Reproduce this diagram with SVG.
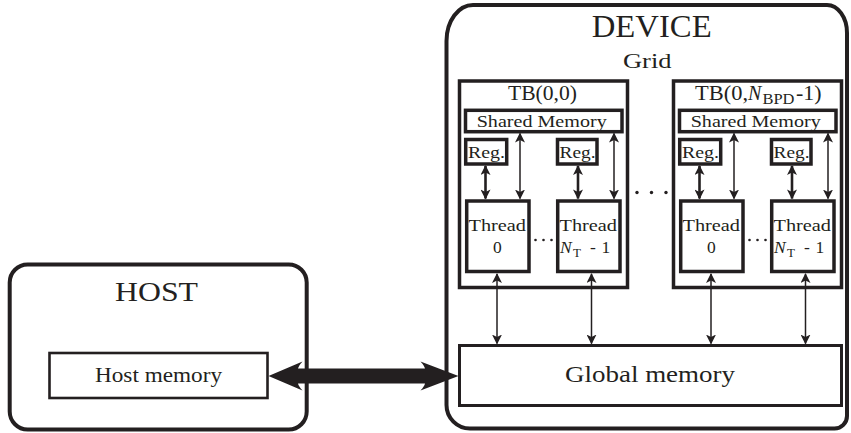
<svg xmlns="http://www.w3.org/2000/svg" width="851" height="433" viewBox="0 0 851 433">
<style>
  .t { font-family: "Liberation Serif", "Times New Roman", serif; fill: #231f20; }
  .box { fill: #ffffff; stroke: #231f20; stroke-width: 3.5; }
  .outer { fill: #ffffff; stroke: #231f20; stroke-width: 4; }
  .thick { stroke: #231f20; stroke-width: 2.6; fill: none; }
  .thin { stroke: #231f20; stroke-width: 1.5; fill: none; }
  .dot { fill: #231f20; }
</style>
<defs>
  <marker id="ah" viewBox="0 0 10 10" refX="9" refY="5" markerWidth="10" markerHeight="10" markerUnits="userSpaceOnUse" orient="auto-start-reverse">
    <path d="M0,0 L10,5 L0,10 L2.5,5 z" fill="#231f20"/>
  </marker>
  <marker id="ahb" viewBox="0 0 10 10" refX="9" refY="5" markerWidth="11" markerHeight="10" markerUnits="userSpaceOnUse" orient="auto-start-reverse">
    <path d="M0,0 L10,5 L0,10 L2.5,5 z" fill="#231f20"/>
  </marker>
</defs>

<g id="host">
  <rect class="outer" x="9.7" y="264.5" width="297" height="165" rx="18" ry="18"/>
  <text class="t" x="115" y="300.5" font-size="27" textLength="83" lengthAdjust="spacingAndGlyphs">HOST</text>
</g>
<g id="host-memory">
  <rect x="49.5" y="353" width="218" height="45" fill="#fff" stroke="#231f20" stroke-width="2.6"/>
  <text class="t" x="95" y="382" font-size="21" textLength="127" lengthAdjust="spacingAndGlyphs">Host memory</text>
</g>

<g id="device">
  <path class="outer" d="M 473 5 H 827 A 20 28 0 0 1 847 33 V 416 A 12.5 12.5 0 0 1 834.5 428.5 H 470 A 23.5 23.5 0 0 1 446.5 405 V 41 A 26.5 36 0 0 1 473 5 Z"/>
  <text class="t" x="591.7" y="36.7" font-size="31" textLength="120" lengthAdjust="spacingAndGlyphs">DEVICE</text>
  <text class="t" x="623" y="68" font-size="21" textLength="48.5" lengthAdjust="spacingAndGlyphs">Grid</text>
</g>

<g id="tb0">
  <rect class="box" x="459.5" y="81" width="168" height="206.5"/>
  <text class="t" x="508" y="100" font-size="20" textLength="69" lengthAdjust="spacingAndGlyphs">TB(0,0)</text>
</g>
<g id="tb0-shared">
  <rect class="box" x="465.5" y="110.3" width="156.5" height="21.4"/>
  <text class="t" x="476.7" y="126.7" font-size="17.5" textLength="130" lengthAdjust="spacingAndGlyphs">Shared Memory</text>
</g>
<g id="tb0-reg0">
  <rect class="box" x="465.7" y="139.5" width="41" height="24.5"/>
  <text class="t" x="468" y="158.3" font-size="17.5" textLength="37" lengthAdjust="spacingAndGlyphs">Reg.</text>
</g>
<g id="tb0-reg1">
  <rect class="box" x="557.5" y="139.5" width="39.5" height="24.5"/>
  <text class="t" x="559.5" y="158.3" font-size="17.5" textLength="36" lengthAdjust="spacingAndGlyphs">Reg.</text>
</g>
<g id="tb0-thread0">
  <rect class="box" x="466.7" y="201" width="62.3" height="70.5"/>
  <text class="t" x="468.5" y="230.7" font-size="17.5" textLength="57.5" lengthAdjust="spacingAndGlyphs">Thread</text>
  <text class="t" x="497.3" y="253.3" font-size="17.5" text-anchor="middle">0</text>
</g>
<g id="tb0-thread1">
  <rect class="box" x="557.7" y="201" width="62.3" height="70.5"/>
  <text class="t" x="559.5" y="230.7" font-size="17.5" textLength="57.5" lengthAdjust="spacingAndGlyphs">Thread</text>
  <text class="t" y="253.3" font-size="17.5"><tspan x="560" font-style="italic">N</tspan><tspan x="573" dy="3.5" font-size="13">T</tspan><tspan x="590" dy="-3.5">-</tspan><tspan x="601.5">1</tspan></text>
</g>

<g id="tb1">
  <rect class="box" x="673.5" y="81" width="168" height="206.5"/>
  <text class="t" y="100" font-size="20"><tspan x="695" textLength="53" lengthAdjust="spacingAndGlyphs">TB(0,</tspan><tspan x="748" font-style="italic">N</tspan><tspan x="762.5" dy="4" font-size="14" textLength="32" lengthAdjust="spacingAndGlyphs">BPD</tspan><tspan x="796" dy="-4" textLength="25.5" lengthAdjust="spacingAndGlyphs">-1)</tspan></text>
</g>
<g id="tb1-shared">
  <rect class="box" x="679.5" y="110.3" width="156.5" height="21.4"/>
  <text class="t" x="690.7" y="126.7" font-size="17.5" textLength="130" lengthAdjust="spacingAndGlyphs">Shared Memory</text>
</g>
<g id="tb1-reg0">
  <rect class="box" x="679.7" y="139.5" width="41" height="24.5"/>
  <text class="t" x="682" y="158.3" font-size="17.5" textLength="37" lengthAdjust="spacingAndGlyphs">Reg.</text>
</g>
<g id="tb1-reg1">
  <rect class="box" x="771.5" y="139.5" width="39.5" height="24.5"/>
  <text class="t" x="773.5" y="158.3" font-size="17.5" textLength="36" lengthAdjust="spacingAndGlyphs">Reg.</text>
</g>
<g id="tb1-thread0">
  <rect class="box" x="680.7" y="201" width="62.3" height="70.5"/>
  <text class="t" x="682.5" y="230.7" font-size="17.5" textLength="57.5" lengthAdjust="spacingAndGlyphs">Thread</text>
  <text class="t" x="711.3" y="253.3" font-size="17.5" text-anchor="middle">0</text>
</g>
<g id="tb1-thread1">
  <rect class="box" x="771.7" y="201" width="62.3" height="70.5"/>
  <text class="t" x="773.5" y="230.7" font-size="17.5" textLength="57.5" lengthAdjust="spacingAndGlyphs">Thread</text>
  <text class="t" y="253.3" font-size="17.5"><tspan x="774" font-style="italic">N</tspan><tspan x="787" dy="3.5" font-size="13">T</tspan><tspan x="804" dy="-3.5">-</tspan><tspan x="815.5">1</tspan></text>
</g>

<g id="global-memory">
  <rect x="459.5" y="345.5" width="382" height="60" fill="#fff" stroke="#231f20" stroke-width="3"/>
  <text class="t" x="565" y="381.7" font-size="23.5" textLength="170" lengthAdjust="spacingAndGlyphs">Global memory</text>
</g>

<g id="dots">
  <circle class="dot" cx="535.5" cy="240" r="1.3"/>
  <circle class="dot" cx="543.5" cy="240" r="1.3"/>
  <circle class="dot" cx="551.5" cy="240" r="1.3"/>
  <circle class="dot" cx="749.5" cy="240" r="1.3"/>
  <circle class="dot" cx="757.5" cy="240" r="1.3"/>
  <circle class="dot" cx="765.5" cy="240" r="1.3"/>
  <circle class="dot" cx="637" cy="192.5" r="1.7"/>
  <circle class="dot" cx="651.5" cy="192.5" r="1.7"/>
  <circle class="dot" cx="666" cy="192.5" r="1.7"/>
</g>

<g id="connectors">
  <line class="thick" x1="485.5" y1="166" x2="485.5" y2="198.5" marker-start="url(#ahb)" marker-end="url(#ahb)"/>
  <line class="thick" x1="578" y1="166" x2="578" y2="198.5" marker-start="url(#ahb)" marker-end="url(#ahb)"/>
  <line class="thick" x1="699.5" y1="166" x2="699.5" y2="198.5" marker-start="url(#ahb)" marker-end="url(#ahb)"/>
  <line class="thick" x1="792" y1="166" x2="792" y2="198.5" marker-start="url(#ahb)" marker-end="url(#ahb)"/>
  <line class="thin" x1="520" y1="133.5" x2="520" y2="198.5" marker-start="url(#ah)" marker-end="url(#ah)"/>
  <line class="thin" x1="614" y1="133.5" x2="614" y2="198.5" marker-start="url(#ah)" marker-end="url(#ah)"/>
  <line class="thin" x1="734" y1="133.5" x2="734" y2="198.5" marker-start="url(#ah)" marker-end="url(#ah)"/>
  <line class="thin" x1="828" y1="133.5" x2="828" y2="198.5" marker-start="url(#ah)" marker-end="url(#ah)"/>
  <line class="thin" x1="497" y1="274" x2="497" y2="343.5" marker-start="url(#ah)" marker-end="url(#ah)"/>
  <line class="thin" x1="591.5" y1="274" x2="591.5" y2="343.5" marker-start="url(#ah)" marker-end="url(#ah)"/>
  <line class="thin" x1="711" y1="274" x2="711" y2="343.5" marker-start="url(#ah)" marker-end="url(#ah)"/>
  <line class="thin" x1="805.5" y1="274" x2="805.5" y2="343.5" marker-start="url(#ah)" marker-end="url(#ah)"/>
  <path fill="#231f20" d="M 268.5 376 L 302.5 361.5 Q 298.5 366 298 368.5 L 425 368.5 Q 424.5 366 420.5 361.5 L 458.5 376 L 420.5 390.5 Q 424.5 386 425 383.5 L 298 383.5 Q 298.5 386 302.5 390.5 Z"/>
</g>
</svg>
